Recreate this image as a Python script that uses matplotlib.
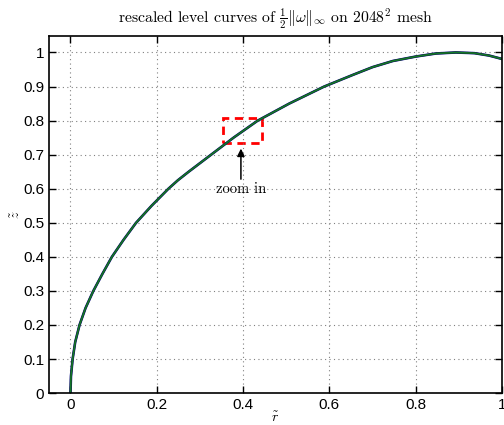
import matplotlib
matplotlib.use("Agg")
import matplotlib.pyplot as plt
from matplotlib.patches import Rectangle
import numpy as np

plt.rcParams['mathtext.fontset'] = 'cm'
plt.rcParams['font.family'] = ['Liberation Sans', 'DejaVu Sans']

# level curve (r~, z~)
r_vals = [0, 0.0012, 0.005, 0.011, 0.021, 0.035, 0.053, 0.074, 0.096,
          0.123, 0.152, 0.188, 0.227, 0.249, 0.274, 0.326, 0.378, 0.434, 0.507,
          0.588, 0.654, 0.70, 0.747, 0.8, 0.847, 0.893, 0.936, 0.97, 1.0]
z_vals = [0, 0.05, 0.1, 0.15, 0.2, 0.25, 0.3, 0.35, 0.4,
          0.45, 0.5, 0.55, 0.6, 0.625, 0.65, 0.7, 0.75, 0.8, 0.85,
          0.9, 0.934, 0.957, 0.975, 0.988, 0.997, 1.0, 0.998, 0.991, 0.981]

# zoom box and arrow
box_r = [0.353, 0.445]
box_z = [0.733, 0.807]
arrow_r = 0.395
arrow_z = [0.62, 0.726]
xticks = [0, 0.2, 0.4, 0.6, 0.8, 1]
yticks = [0, 0.1, 0.2, 0.3, 0.4, 0.5, 0.6, 0.7, 0.8, 0.9, 1]

fig = plt.figure(figsize=(5.04, 4.25), dpi=100)
ax = fig.add_axes([0.097, 0.075, 0.899, 0.840])

# three almost identical level curves
ax.plot(r_vals, z_vals, color='#2020a0', lw=1.9)
ax.plot(r_vals, z_vals, color='#103020', lw=1.5)
ax.plot(r_vals, z_vals, color='#137a2a', lw=1.0)

ax.add_patch(Rectangle((box_r[0], box_z[0]), box_r[1] - box_r[0], box_z[1] - box_z[0],
                       fill=False, edgecolor='red', lw=2, ls=(0, (3, 2))))
ax.annotate('', xy=(arrow_r, arrow_z[1]), xytext=(arrow_r, arrow_z[0]),
            arrowprops=dict(arrowstyle='-|>', color='black', lw=1.1, mutation_scale=11))
ax.text(arrow_r, 0.60, 'zoom in', ha='center', va='center', fontsize=10.5,
        fontfamily='cmr10')

ax.set_xlim(-0.05, 1.0)
ax.set_ylim(0, 1.048)
ax.set_xticks(xticks)
ax.set_yticks(yticks)
ax.set_xticklabels(['0', '0.2', '0.4', '0.6', '0.8', '1'])
ax.set_yticklabels(['0', '0.1', '0.2', '0.3', '0.4', '0.5', '0.6', '0.7', '0.8', '0.9', '1'])
ax.tick_params(direction='in', top=True, right=True, labelsize=11, length=5, width=1)
ax.grid(True, ls=(0, (1, 3)), color='gray', lw=0.8)
for s in ax.spines.values():
    s.set_linewidth(1.2)

ax.set_xlabel(r'$\tilde{r}$', fontsize=10, labelpad=-1)
ax.set_ylabel(r'$\tilde{z}$', fontsize=10, labelpad=0)
ax.set_title(r'rescaled level curves of $\frac{1}{2}\|\omega\|_\infty$ on $2048^2$ mesh',
             fontsize=11.3, fontfamily='cmr10', pad=10)

fig.savefig('out.png', dpi=100)
